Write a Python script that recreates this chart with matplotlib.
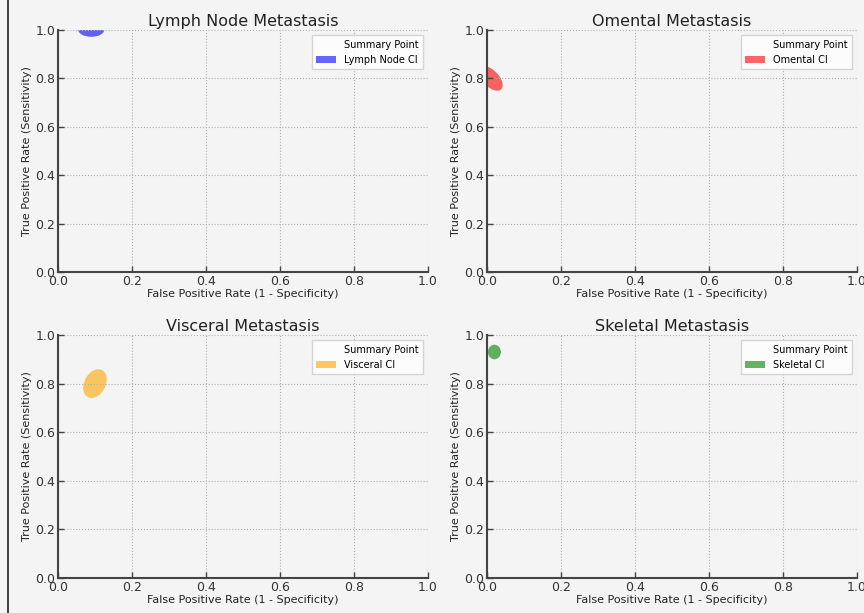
import matplotlib
matplotlib.use("Agg")
import matplotlib.pyplot as plt
from matplotlib.patches import Ellipse
from matplotlib.lines import Line2D

titles = ["Lymph Node Metastasis", "Omental Metastasis", "Visceral Metastasis", "Skeletal Metastasis"]
ci_labels = ["Lymph Node CI", "Omental CI", "Visceral CI", "Skeletal CI"]
colors = ["blue", "red", "orange", "green"]
center_fpr = [0.09, 0.01, 0.10, 0.02]
center_tpr = [1.00, 0.80, 0.80, 0.93]
ci_width = [0.07, 0.05, 0.06, 0.035]
ci_height = [0.056, 0.11, 0.12, 0.06]
ci_angle = [0, 25, -12, 0]
ticks = [0.0, 0.2, 0.4, 0.6, 0.8, 1.0]

bg = "#f4f4f4"
fig = plt.figure(figsize=(8.64, 6.13), dpi=100, facecolor=bg)
positions = [
    [58/864, 1-272/613, 370/864, 242/613],
    [487/864, 1-272/613, 370/864, 242/613],
    [58/864, 1-578/613, 370/864, 243/613],
    [487/864, 1-578/613, 370/864, 243/613],
]
for i in range(4):
    ax = fig.add_axes(positions[i])
    ax.set_facecolor(bg)
    e = Ellipse((center_fpr[i], center_tpr[i]), ci_width[i], ci_height[i], angle=ci_angle[i],
                facecolor=colors[i], alpha=0.6, edgecolor="none", label=ci_labels[i])
    ax.add_patch(e)
    ax.plot([], [], linestyle="none", label="Summary Point")
    ax.set_xlim(0, 1)
    ax.set_ylim(0, 1)
    ax.set_xticks(ticks)
    ax.set_yticks(ticks)
    ax.set_xticklabels([f"{t:.1f}" for t in ticks])
    ax.set_yticklabels([f"{t:.1f}" for t in ticks])
    ax.grid(True, linestyle=":", color="#b0b0b0", linewidth=0.8)
    for s in ["top", "right"]:
        ax.spines[s].set_visible(False)
    for s in ["left", "bottom"]:
        ax.spines[s].set_color("#444444")
        ax.spines[s].set_linewidth(1.5)
    ax.tick_params(direction="in", length=4, width=1, colors="#444444", labelcolor="#333333", labelsize=9, pad=2)
    ax.set_title(titles[i], fontsize=11.5, color="#222222", pad=3)
    ax.set_xlabel("False Positive Rate (1 - Specificity)", fontsize=8, color="#222222", labelpad=1)
    ax.set_ylabel("True Positive Rate (Sensitivity)", fontsize=8, color="#222222", labelpad=2)
    h, l = ax.get_legend_handles_labels()
    order = [1, 0]
    leg = ax.legend([h[j] for j in order], [l[j] for j in order], loc="upper right", fontsize=7,
                    frameon=True, facecolor="white", edgecolor="#cccccc", fancybox=False,
                    handlelength=2.0, borderpad=0.5)

fig.add_artist(Line2D([8/864, 8/864], [0, 1], color="#222222", linewidth=1.2, transform=fig.transFigure))
fig.savefig("out.png", dpi=100, facecolor=bg)
